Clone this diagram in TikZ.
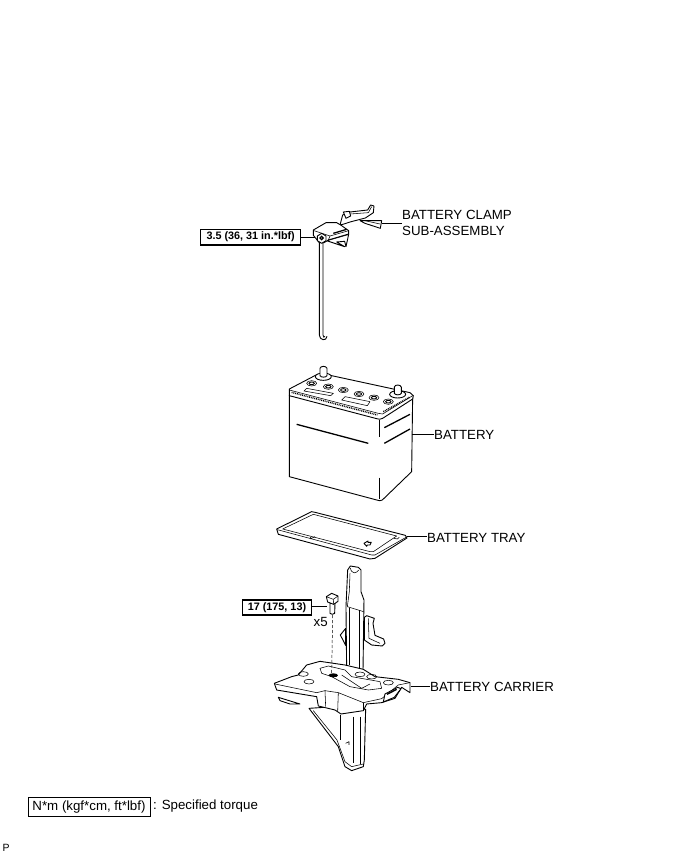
\documentclass[tikz,border=0pt]{standalone}
\usepackage{fontspec}
\setmainfont{Liberation Sans}
\tikzset{
  lbl/.style={anchor=west,inner sep=0pt,font=\fontsize{13.3}{14}\selectfont},
  torque/.style={draw=black,line width=1.2pt,fill=white,inner sep=0pt,align=center,font=\fontsize{10.8}{12}\bfseries\selectfont},
  leader/.style={line width=0.8pt,black},
  part/.style={line width=0.9pt,black,fill=white,line join=round},
  thin part/.style={line width=0.55pt,black,line join=round},
  heavy/.style={line width=1.3pt,black},
  z1/.style={shift={(190,195)},x=0.3333pt,y=-0.3333pt},
  z2/.style={shift={(260,355)},x=0.3333pt,y=-0.3333pt},
  z3/.style={shift={(235,560)},x=0.3333pt,y=-0.3333pt},
  z4/.style={shift={(300,200)},x=0.3333pt,y=-0.3333pt},
}
\begin{document}
\begin{tikzpicture}[x=1pt,y=-1pt]
\useasboundingbox[fill=white] (0,0) rectangle (690,854);

% ---------- clamp rod
\begin{scope}[z1]
  \draw[part] (388,140) -- (388,420) .. controls (388,436) and (410,440) .. (411,424);
  \draw[line width=0.8pt] (399,140) -- (399,420) .. controls (399,428) and (404,428) .. (405,424);
\end{scope}
% ---------- clamp
\begin{scope}[z4]
  \draw[part] (180,62) -- (245,62) -- (241,85) -- (195,70) -- cycle;
  \draw[thin part] (195,62) -- (240,72);
  \draw[part] (120,75) -- (128,45) -- (150,36) -- (203,30) -- (212,15) -- (222,18) -- (220,38) -- (196,54) -- (150,66) -- (132,72) -- cycle;
  \draw[thin part] (150,42) -- (205,38) -- (215,20);
  \draw[part] (130,36) -- (148,34) -- (152,48) -- (138,55) -- cycle;
  \draw[part] (80,122) -- (146,103) -- (138,140) -- (134,124) -- (110,126) -- (134,140) -- cycle;
  \draw[part] (40,90) -- (78,68) -- (110,68) -- (122,75) -- (146,92) -- (146,102) -- (85,120) -- (72,128) -- (58,128) -- (40,106) -- cycle;
  \draw[thin part] (42,92) -- (90,108) -- (146,92);
  \draw[thin part] (90,108) -- (85,120);
  \draw[heavy] (100,100) -- (140,88);
  \draw[part] (52,108) -- (65,100) -- (78,108) -- (78,122) -- (65,130) -- (52,122) -- cycle;
  \draw[line width=1.2pt] (65,114) circle (5);
\end{scope}

% ---------- battery
\begin{scope}[z2]
  \draw[part] (88,122) -- (88,365) -- (350,435) .. controls (356,438) and (362,438) .. (367,435) -- (455,350) -- (458,125) -- cycle;
  \draw[part] (88,102) -- (172,58) -- (215,62) -- (400,102) -- (450,113) -- (460,122) -- (458,132) -- (368,190) .. controls (362,194) and (356,193) .. (350,191) -- (88,122) -- cycle;
  \draw[thin part] (88,105) -- (355,175) -- (368,177) -- (458,122);
  \draw[line width=1.5pt,dash pattern=on 0.9pt off 0.9pt] (95,112) -- (352,180);
  \draw[line width=1.5pt,dash pattern=on 0.9pt off 0.9pt] (370,170) -- (450,126);
  \foreach \cx/\cy in {155/85,205/95,250/105,297/117,342/128,385/140}{
    \draw[thin part,fill=white] (\cx,\cy) ellipse (15 and 8);
    \draw[line width=0.9pt] (\cx,\cy) ellipse (8 and 4);
  }
  \draw[thin part] (140,100) -- (220,115) -- (212,122) -- (132,108) -- cycle;
  \draw[thin part] (255,125) -- (330,140) -- (322,152) -- (245,135) -- cycle;
  \draw[part] (190,65) ellipse (24 and 11);
  \draw[part] (180,62) -- (180,40) .. controls (182,32) and (198,32) .. (201,40) -- (201,62) .. controls (198,68) and (183,68) .. (180,62) -- cycle;
  \draw[part] (413,118) ellipse (24 and 11);
  \draw[part] (403,115) -- (403,96) .. controls (405,88) and (421,88) .. (424,96) -- (424,115) .. controls (421,121) and (406,121) .. (403,115) -- cycle;
  \draw[heavy] (110,208) -- (325,265);
  \draw[heavy] (373,218) -- (450,178);
  \draw[heavy] (373,265) -- (450,222);
  \draw[thin part] (358,196) -- (358,245);
  \draw[thin part] (358,368) -- (358,432);
  \coordinate (batteryEdge) at (456,238);
  % tray
  \draw[part] (50,522) -- (155,470) -- (165,472) -- (436,541) -- (441,549) -- (345,610) -- (330,612) -- (55,538) -- cycle;
  \draw[thin part] (52,524) -- (335,600) -- (345,600) -- (440,546);
  \draw[thin part] (68,522) -- (160,478) -- (410,543) -- (340,590) -- (330,590) -- cycle;
  \draw[thin part] (150,552) -- (165,545);
  \draw[thin part] (150,546) -- (156,552);
  \draw[part] (312,565) -- (324,558) -- (324,562) -- (334,562) -- (330,570) -- (322,570) -- (320,574) -- cycle;
  \draw[thin part] (402,550) -- (412,552) -- (418,547);
  \coordinate (trayEdge) at (440,545);
\end{scope}

% ---------- carrier
\begin{scope}[z3]
  % rear bracket
  \draw[part] (332,205) -- (316,225) -- (332,256) -- cycle;
  \draw[part] (388,172) -- (395,167) -- (418,175) -- (414,190) -- (420,226) -- (446,237) -- (450,250) -- (442,258) -- (410,255) -- (388,240) -- cycle;
  \draw[thin part] (400,175) -- (402,235) -- (435,250);
  % upper post
  \draw[part] (335,330) -- (333,140) -- (338,30) -- (346,18) -- (370,22) -- (378,30) -- (378,95) -- (387,120) -- (384,335) -- cycle;
  \draw[thin part] (346,24) .. controls (350,44) and (366,40) .. (371,30);
  \draw[thin part] (345,40) -- (343,95) -- (337,140) -- (386,155);
  \draw[thin part] (374,150) -- (374,330);
  \draw[thin part] (342,145) -- (342,315);
  % lower post
  \draw[part] (222,445) -- (310,560) -- (330,620) -- (350,632) -- (385,620) -- (388,600) -- (392,448) -- (300,440) -- cycle;
  \draw[thin part] (235,452) -- (306,540) -- (330,605) -- (350,620) -- (385,612);
  \draw[thin part] (315,465) -- (315,540);
  \draw[thin part] (355,470) -- (355,610);
  \draw[line width=1pt] (378,470) -- (378,612);
  \draw[thin part] (332,550) -- (342,545) -- (342,555);
  % under lip
  \draw[part] (130,412) -- (195,432) -- (165,432) -- (135,422) -- cycle;
  % plate
  \draw[part] (118,370) -- (170,350) -- (190,345) -- (215,315) -- (255,304) -- (330,315) -- (385,328) -- (420,350) -- (490,358) -- (525,368) -- (525,398) -- (500,382) -- (480,415) -- (440,428) -- (395,432) -- (385,452) -- (318,462) -- (300,450) -- (250,438) -- (245,410) -- (125,390) -- cycle;
  \draw[thin part] (120,372) -- (245,398) -- (270,392) -- (310,398) -- (385,428) -- (440,416) -- (490,375) -- (525,368);
  \draw[thin part] (270,392) -- (272,440);
  \draw[thin part] (310,398) -- (308,455);
  \draw[thin part] (385,428) -- (385,450);
  \draw[thin part] (255,325) -- (280,318) -- (330,330) -- (350,350) -- (435,365) -- (440,385) -- (400,390) -- (345,380) -- (290,350) -- (260,340) -- cycle;
  \draw[thin part] (320,345) -- (380,385) -- (405,372);
  \foreach \hx/\hy in {222/365,205/342,375/343,460/368,410/350}{
    \draw[thin part] (\hx,\hy) ellipse (15 and 7);
  }
  \draw[part] (450,402) -- (488,382) -- (498,386) -- (478,412) -- (445,426) -- cycle;
  \draw[line width=1.4pt] (456,403) -- (485,388);
  \fill (295,346) ellipse (14 and 6);
  \draw[line width=0.5pt,dash pattern=on 3pt off 2pt] (293,165) -- (290,340);
  % bolt
  \draw[part] (285,130) -- (285,160) -- (292,163) -- (299,160) -- (300,130) -- cycle;
  \draw[part] (274,110) -- (290,100) -- (309,108) -- (309,124) -- (296,133) -- (278,126) -- cycle;
  \draw[thin part] (274,110) -- (295,118) -- (309,108);
  \draw[thin part] (295,118) -- (296,133);
  \coordinate (boltEdge) at (275,138);
  \coordinate (carrierEdge) at (528,378);
\end{scope}

\coordinate (clampRight) at (381.5,223);
\coordinate (clampNut) at (315,237);

% ---------- labels
\node[lbl] (clampA) at (402,215) {BATTERY CLAMP};
\node[lbl] (clampB) at (402,231) {SUB-ASSEMBLY};
\node[lbl] (batt) at (434,435) {BATTERY};
\node[lbl] (tray) at (427,537.5) {BATTERY TRAY};
\node[lbl] (carr) at (430,686.5) {BATTERY CARRIER};
\node[lbl] (xfive) at (313.5,622) {x5};
\node[torque,minimum width=100pt,minimum height=15.5pt] (tq1) at (250.7,237.2) {3.5 (36, 31 in.*lbf)};
\node[torque,minimum width=69.5pt,minimum height=15pt] (tq2) at (277,607.5) {17 (175, 13)};
\node[draw=black,line width=0.9pt,inner sep=0pt,minimum width=122pt,minimum height=19.5pt,font=\fontsize{13.3}{14}\selectfont] (legend) at (89,807) {N*m (kgf*cm, ft*lbf)};
\node[lbl] (legendtext) at (153,806.5) {: Specified torque};
\node[anchor=west,inner sep=0pt,font=\fontsize{10.5}{11}\selectfont] (pmark) at (2.5,848) {P};

% ---------- leaders
\draw[leader] (clampRight) -- (clampRight -| clampA.west);
\draw[leader] (batteryEdge) -- (batteryEdge -| batt.west);
\draw[leader] (trayEdge) -- (trayEdge -| tray.west);
\draw[leader] (carrierEdge) -- (carrierEdge -| carr.west);
\draw[leader] (tq1.east |- clampNut) -- (clampNut);
\draw[leader] (tq2.east |- boltEdge) -- (boltEdge);
\end{tikzpicture}
\end{document}
